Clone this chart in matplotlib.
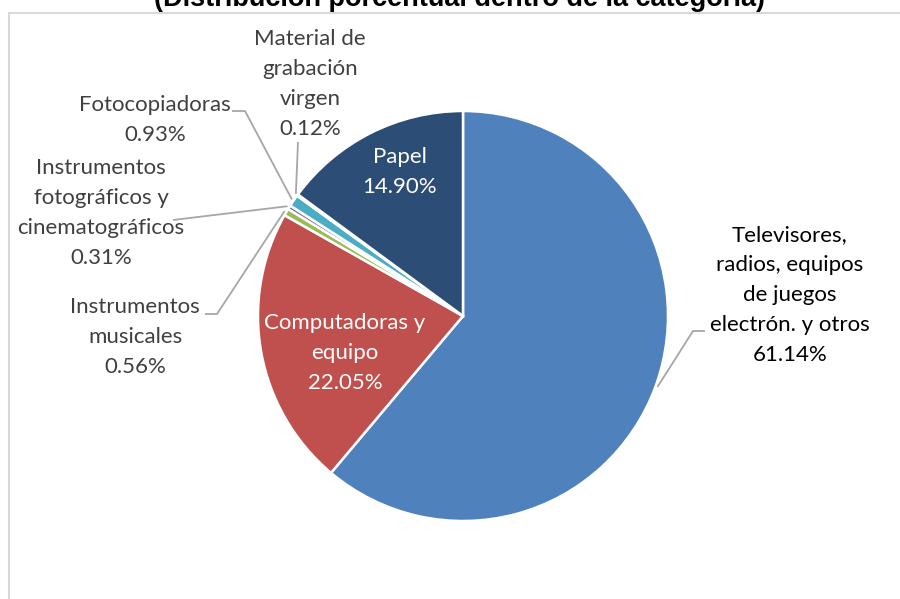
import matplotlib
matplotlib.use("Agg")
import matplotlib.pyplot as plt
import numpy as np
from matplotlib.patches import Rectangle

categories = ["Televisores,\nradios, equipos\nde juegos\nelectrón. y otros",
              "Computadoras y\nequipo",
              "Instrumentos\nmusicales",
              "Instrumentos\nfotográficos y\ncinematográficos",
              "Fotocopiadoras",
              "Material de\ngrabación\nvirgen",
              "Papel"]
values = [61.14, 22.05, 0.56, 0.31, 0.93, 0.12, 14.90]
colors = ["#4F81BD", "#C0504D", "#9BBB59", "#8064A2", "#4BACC6", "#F79646", "#2C4D75"]
title = "(Distribución porcentual dentro de la categoría)"

W, H = 900, 599
fig = plt.figure(figsize=(9, 5.99), dpi=100)
ax = fig.add_axes([0, 0, 1, 1])

def py(y):  # pixel y (top-down) to data y
    return H - y

cx, cy, R = 463, py(316), 205
wedges, _ = ax.pie(values, colors=colors, startangle=90, counterclock=False,
                   center=(cx, cy), radius=R,
                   wedgeprops=dict(edgecolor="white", linewidth=1.8))
ax.set_xlim(0, W)
ax.set_ylim(0, H)
ax.set_aspect("equal")
ax.axis("off")

# frame
ax.add_patch(Rectangle((9, -10), 1000, py(13) + 10, fill=False,
                       edgecolor="#D9D9D9", linewidth=1.5, zorder=0))

fam = ["Lato", "DejaVu Sans"]
fs = 16
gray = "#404040"
lc = "#A6A6A6"

def label(text, x, y, color=gray):
    ax.text(x, py(y), text, ha="center", va="center", fontsize=fs,
            family=fam, color=color, linespacing=1.62)

def pct(v):
    return f"{v:.2f}%"

def edge_point(i, r=R + 2):
    w = wedges[i]
    a = np.deg2rad((w.theta1 + w.theta2) / 2)
    return cx + r * np.cos(a), cy + r * np.sin(a)

# labels (inside)
label(categories[6] + "\n" + pct(values[6]), 400, 172, "white")
label(categories[1] + "\n" + pct(values[1]), 345, 353, "white")
# outside labels
label(categories[0] + "\n" + pct(values[0]), 790, 295, "black")
label(categories[5] + "\n" + pct(values[5]), 310, 84)
label(categories[4] + "\n" + pct(values[4]), 155, 120)
label(categories[3] + "\n" + pct(values[3]), 101, 213)
label(categories[2] + "\n" + pct(values[2]), 135, 337)

# leader lines
def leader(i, pts):
    ex, ey = edge_point(i)
    xs = [p[0] for p in pts] + [ex]
    ys = [py(p[1]) for p in pts] + [ey]
    ax.plot(xs, ys, color=lc, linewidth=1.3, solid_capstyle="butt", zorder=1)

leader(0, [(705, 331), (693, 331)])
leader(5, [(298, 142)])
leader(4, [(232, 111), (245, 111)])
leader(3, [(173, 220)])
leader(2, [(205, 314), (217, 314)])

ax.text(460, py(6), title, ha="center", va="baseline", fontsize=19.5,
        family=["Liberation Sans", "DejaVu Sans"], fontweight="bold", color="black")

fig.savefig("out.png", dpi=100)
